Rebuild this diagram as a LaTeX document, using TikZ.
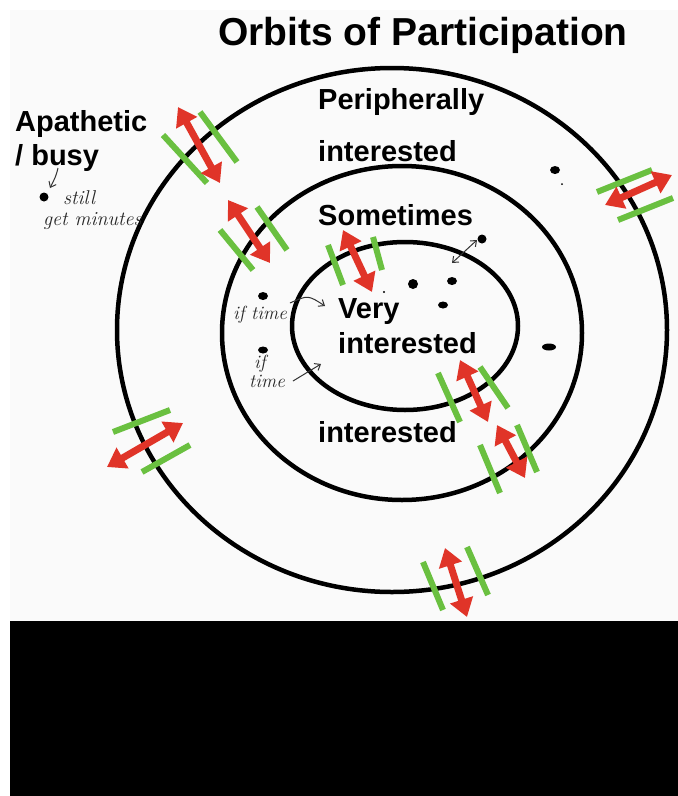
\documentclass[tikz,border=0pt]{standalone}
\usepackage{fontspec}
\newfontfamily\arial{Liberation Sans}
\usetikzlibrary{arrows.meta}
\definecolor{rarrow}{RGB}{224,52,40}
\definecolor{gbar}{RGB}{106,192,64}
\begin{document}
\begin{tikzpicture}[x=1pt,y=-1pt,
  lbl/.style={anchor=base west,inner sep=0pt,font=\arial\bfseries\fontsize{29}{34}\selectfont},
  orbit/.style={line width=4.5pt,black},
  move/.style={rarrow,line width=7pt,{Triangle[width=23pt,length=18pt]}-{Triangle[width=23pt,length=18pt]}},
  gate/.style={gbar,line width=6pt},
  dot/.style={fill=black,draw=none},
  hand/.style={anchor=base west,inner sep=0pt,font=\itshape\fontsize{20}{21}\selectfont,text=black!85},
  smallhand/.style={hand,font=\itshape\fontsize{19}{20}\selectfont},
  note/.style={black!80,line width=1pt,-{Straight Barb[length=5pt,width=8pt]}},
]
\useasboundingbox (0,0) rectangle (678,796);
\fill[white] (0,0) rectangle (678,796);
\fill[white!98!black] (10,10) rectangle (678,621);
\fill[black] (10,621) rectangle (678,796);

% orbits
\draw[orbit] (392,330) ellipse [x radius=275pt, y radius=262pt];
\draw[orbit] (402,333) ellipse [x radius=180pt, y radius=167pt];
\draw[orbit] (405,326) ellipse [x radius=113pt, y radius=84pt];

% texts
\node[lbl,font=\arial\bfseries\fontsize{39}{44}\selectfont] (title) at (218,45) {Orbits of Participation};
\node[lbl] (apa) at (15,131) {Apathetic};
\node[lbl] (busy) at (15,165) {/ busy};
\node[lbl] (peri) at (318,109) {Peripherally};
\node[lbl] (peri2) at (318,161) {interested};
\node[lbl] (some) at (318,225) {Sometimes};
\node[lbl] (very) at (338,318) {Very};
\node[lbl] (very2) at (338,353) {interested};
\node[lbl] (some2) at (318,442) {interested};

% handwritten notes
\node[hand] (still) at (63,204) {still};
\node[hand] (getmin) at (43,225) {get minutes};
\node[smallhand] (ift1) at (233,319) {if time};
\node[smallhand] (ift2a) at (254,368) {if};
\node[smallhand] (ift2b) at (249,387) {time};

% dots
\fill[dot] (44,197) ellipse [x radius=4.5pt, y radius=4.5pt];
\fill[dot] (555,170) ellipse [x radius=5pt, y radius=4pt];
\fill[dot] (562,184) circle [radius=1pt];
\fill[dot] (263,296) ellipse [x radius=5pt, y radius=4pt];
\fill[dot] (263,350) ellipse [x radius=5pt, y radius=3.5pt];
\fill[dot] (482,239) ellipse [x radius=4.5pt, y radius=4.5pt];
\fill[dot] (413,284) ellipse [x radius=5pt, y radius=5pt];
\fill[dot] (452,281) ellipse [x radius=5pt, y radius=4pt];
\fill[dot] (443,305) ellipse [x radius=5pt, y radius=3.5pt];
\fill[dot] (549,347) ellipse [x radius=7pt, y radius=3.5pt];
\fill[dot] (384,292) circle [radius=1.2pt];

% note arrows
\coordinate (n1a) at (58,168); \coordinate (n1b) at (50,188);
\draw[note] (n1a) .. controls (56,176) .. (n1b);
\coordinate (n2a) at (290,303); \coordinate (n2b) at (325,306);
\draw[note] (n2a) .. controls (308,295) .. (n2b);
\coordinate (n3a) at (293,381); \coordinate (n3b) at (321,364);
\draw[note] (n3a) -- (n3b);
\coordinate (n4a) at (452,263); \coordinate (n4b) at (477,240);
\draw[note,{Straight Barb[length=5pt,width=8pt]}-{Straight Barb[length=5pt,width=8pt]}] (n4a) -- (n4b);

% gates (green bars)
\draw[gate] (163,135) -- (207,183);  \draw[gate] (200,112) -- (237,162);
\draw[gate] (220,230) -- (253,270);  \draw[gate] (257,207) -- (287,250);
\draw[gate] (328,245) -- (343,285);  \draw[gate] (373,237) -- (382,270);
\draw[gate] (438,373) -- (460,422);  \draw[gate] (480,367) -- (508,408);
\draw[gate] (480,445) -- (500,493);  \draw[gate] (517,425) -- (537,472);
\draw[gate] (597,192) -- (652,170);  \draw[gate] (618,220) -- (673,198);
\draw[gate] (113,432) -- (170,410);  \draw[gate] (142,472) -- (190,445);
\draw[gate] (423,562) -- (443,610);  \draw[gate] (467,547) -- (488,595);

% movement arrows
\coordinate (a1) at (178,107); \coordinate (b1) at (220,183);
\coordinate (a2) at (228,200); \coordinate (b2) at (270,263);
\coordinate (a3) at (343,230); \coordinate (b3) at (372,292);
\coordinate (a4) at (460,360); \coordinate (b4) at (488,422);
\coordinate (a5) at (497,425); \coordinate (b5) at (525,478);
\coordinate (a6) at (605,205); \coordinate (b6) at (672,175);
\coordinate (a7) at (107,467); \coordinate (b7) at (183,423);
\coordinate (a8) at (445,548); \coordinate (b8) at (467,617);
\foreach \i in {1,...,8} { \draw[move] (a\i) -- (b\i); }
\end{tikzpicture}
\end{document}
